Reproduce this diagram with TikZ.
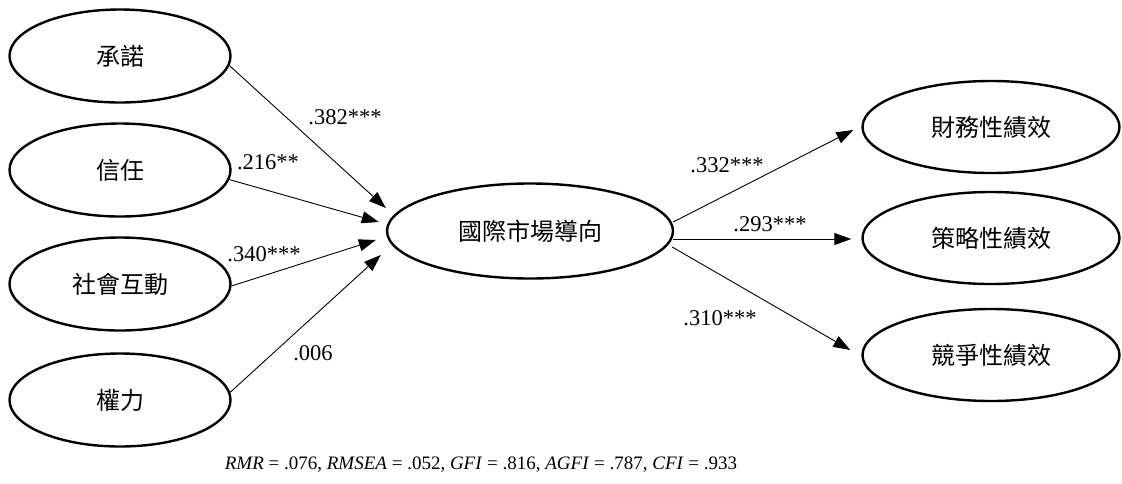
\documentclass[tikz,border=0pt]{standalone}
\usepackage{fontspec}
\setmainfont{Liberation Serif}
\newfontfamily\cjk{Noto Sans CJK TC}
\usetikzlibrary{shapes.geometric,arrows.meta}
\tikzset{
  lat/.style={ellipse,draw,line width=2.4pt,inner sep=0pt,font=\cjk\fontsize{24}{26}\selectfont},
  leftlat/.style={lat,minimum width=221pt,minimum height=93pt},
  midlat/.style={lat,minimum width=286pt,minimum height=95pt},
  rightlat/.style={lat,minimum width=257pt,minimum height=92pt},
  path/.style={line width=0.9pt,-{Triangle[length=17pt,width=12pt]}},
  coef/.style={inner sep=0pt,font=\fontsize{22.5}{24}\selectfont},
}
\begin{document}
\begin{tikzpicture}[x=1pt,y=-1pt]
\useasboundingbox (0,0) rectangle (1122,483);
\node[leftlat] (a1) at (120,56) {承諾};
\node[leftlat] (a2) at (120,170) {信任};
\node[leftlat] (a3) at (120,284) {社會互動};
\node[leftlat] (a4) at (120,400) {權力};
\node[midlat] (c) at (530,231) {國際市場導向};
\node[rightlat] (b1) at (991,127) {財務性績效};
\node[rightlat] (b2) at (991,238) {策略性績效};
\node[rightlat] (b3) at (991,355) {競爭性績效};

\draw[path] (a1.-5) -- ([shift={(0,-23)}]c.west);
\draw[path] (a2.-5) -- ([shift={(-7,-9)}]c.west);
\draw[path] (a3.-1) -- ([shift={(-10,9)}]c.west);
\draw[path] (a4.4) -- ([shift={(-5,24)}]c.west);

\draw[path] ([shift={(-1,-9)}]c.east) -- ([shift={(-8,3)}]b1.west);
\draw[path] ([shift={(-1,8)}]c.east) -- ([shift={(-10,1)}]b2.west);
\draw[path] ([shift={(-2,16)}]c.east) -- ([shift={(-11,-5)}]b3.west);

\node[coef] (l1) at (345,117) {.382***};
\node[coef] (l2) at (268,162) {.216**};
\node[coef] (l3) at (264,254) {.340***};
\node[coef] (l4) at (313,353) {.006};
\node[coef] (l5) at (727,165) {.332***};
\node[coef] (l6) at (770,224) {.293***};
\node[coef] (l7) at (720,318) {.310***};

\node[inner sep=0pt,font=\fontsize{19}{21}\selectfont] (fit) at (481,465)
  {\textit{RMR} = .076, \textit{RMSEA} = .052, \textit{GFI} = .816, \textit{AGFI} = .787, \textit{CFI} = .933};
\end{tikzpicture}
\end{document}
